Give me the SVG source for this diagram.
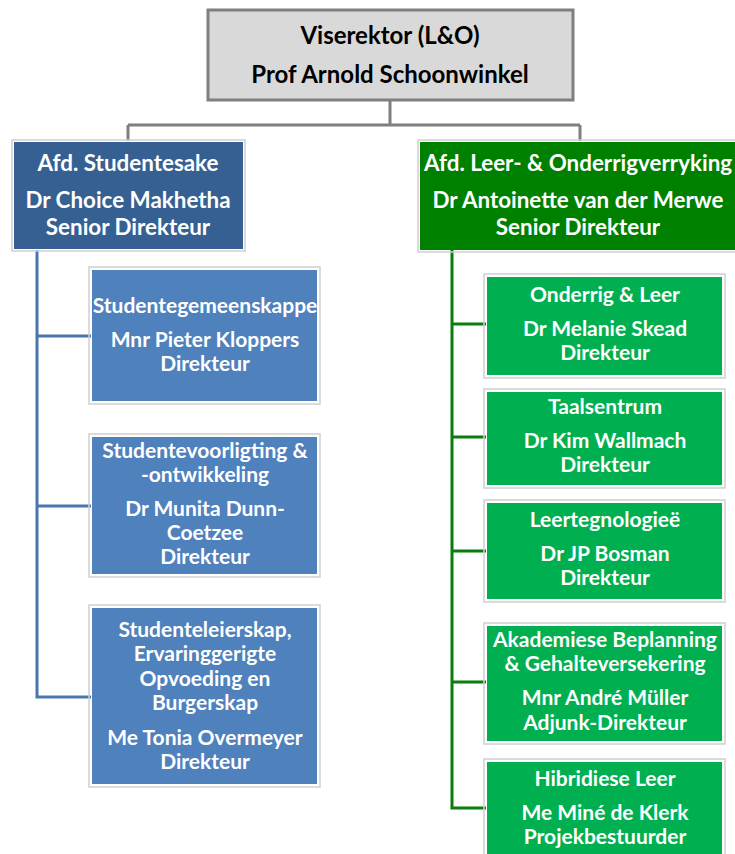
<svg xmlns="http://www.w3.org/2000/svg" width="735" height="854" viewBox="0 0 735 854">
<style>
text{font-family:Lato,"Open Sans","Liberation Sans",sans-serif;font-weight:bold;text-anchor:middle;}
.t1{font-size:24px;fill:#000;}
.th{font-size:22.4px;fill:#fff;}
.tc{font-size:21px;fill:#fff;}
.frame{fill:none;stroke:#d0d0d0;stroke-width:1.5;}
.blue{fill:#4f81bd;}
.green{fill:#00b050;}
.cg{stroke:#7f7f7f;stroke-width:3;fill:none;}
.cb{stroke:#4a76ae;stroke-width:3;fill:none;}
.cgr{stroke:#0a7d0a;stroke-width:3;fill:none;}
</style>
<rect width="735" height="854" fill="#fff"/>
<g id="connectors">
<path class="cg" d="M390 101V125M128 125H580M128 125V141M580 125V141"/>
<path class="cb" d="M37 250V697H91M37 336H91M37 506H91"/>
<path class="cgr" d="M452 250V808H486M452 324H486M452 437H486M452 551H486M452 682H486"/>
</g>
<g id="vicerector">
<rect x="208" y="10" width="365" height="90" fill="#d9d9d9" stroke="#7f7f7f" stroke-width="3"/>
<text class="t1" x="390" y="44">Viserektor (L&amp;O)</text>
<text class="t1" x="390" y="83">Prof Arnold Schoonwinkel</text>
</g>
<g id="studentesake">
<rect class="frame" x="12" y="140" width="233" height="111"/>
<rect x="14" y="142" width="229" height="107" fill="#366092"/>
<text class="th" x="128" y="171">Afd. Studentesake</text>
<text class="th" x="128" y="208">Dr Choice Makhetha</text>
<text class="th" x="128" y="235">Senior Direkteur</text>
</g>
<g id="leer-onderrig">
<rect class="frame" x="418" y="140" width="320" height="112"/>
<rect x="420" y="142" width="318" height="108" fill="#008000"/>
<text class="th" x="578" y="171">Afd. Leer- &amp; Onderrigverryking</text>
<text class="th" x="578" y="208">Dr Antoinette van der Merwe</text>
<text class="th" x="578" y="235">Senior Direkteur</text>
</g>
<g id="studentegemeenskappe">
<rect class="frame" x="89" y="267" width="231" height="137"/>
<rect class="blue" x="92" y="270" width="225" height="131"/>
<text class="tc" x="205" y="313">Studentegemeenskappe</text>
<text class="tc" x="205" y="347">Mnr Pieter Kloppers</text>
<text class="tc" x="205" y="371">Direkteur</text>
</g>
<g id="studentevoorligting">
<rect class="frame" x="89" y="434" width="231" height="143"/>
<rect class="blue" x="92" y="437" width="225" height="137"/>
<text class="tc" x="205" y="458">Studentevoorligting &amp;</text>
<text class="tc" x="205" y="482">-ontwikkeling</text>
<text class="tc" x="205" y="516">Dr Munita Dunn-</text>
<text class="tc" x="205" y="540">Coetzee</text>
<text class="tc" x="205" y="564">Direkteur</text>
</g>
<g id="studenteleierskap">
<rect class="frame" x="89" y="605" width="231" height="182"/>
<rect class="blue" x="92" y="608" width="225" height="176"/>
<text class="tc" x="205" y="637">Studenteleierskap,</text>
<text class="tc" x="205" y="661">Ervaringgerigte</text>
<text class="tc" x="205" y="686">Opvoeding en</text>
<text class="tc" x="205" y="710">Burgerskap</text>
<text class="tc" x="205" y="745">Me Tonia Overmeyer</text>
<text class="tc" x="205" y="769">Direkteur</text>
</g>
<g id="onderrig-leer">
<rect class="frame" x="484" y="274" width="241" height="104"/>
<rect class="green" x="487" y="277" width="235" height="98"/>
<text class="tc" x="605" y="302">Onderrig &amp; Leer</text>
<text class="tc" x="605" y="336">Dr Melanie Skead</text>
<text class="tc" x="605" y="360">Direkteur</text>
</g>
<g id="taalsentrum">
<rect class="frame" x="484" y="389" width="241" height="99"/>
<rect class="green" x="487" y="392" width="235" height="93"/>
<text class="tc" x="605" y="414">Taalsentrum</text>
<text class="tc" x="605" y="448">Dr Kim Wallmach</text>
<text class="tc" x="605" y="472">Direkteur</text>
</g>
<g id="leertegnologiee">
<rect class="frame" x="484" y="500" width="241" height="102"/>
<rect class="green" x="487" y="503" width="235" height="96"/>
<text class="tc" x="605" y="527">Leertegnologieë</text>
<text class="tc" x="605" y="561">Dr JP Bosman</text>
<text class="tc" x="605" y="585">Direkteur</text>
</g>
<g id="akademiese-beplanning">
<rect class="frame" x="484" y="623" width="241" height="121"/>
<rect class="green" x="487" y="626" width="235" height="115"/>
<text class="tc" x="605" y="647">Akademiese Beplanning</text>
<text class="tc" x="605" y="671">&amp; Gehalteversekering</text>
<text class="tc" x="605" y="705">Mnr André Müller</text>
<text class="tc" x="605" y="730">Adjunk-Direkteur</text>
</g>
<g id="hibridiese-leer">
<rect class="frame" x="484" y="759" width="241" height="100"/>
<rect class="green" x="487" y="762" width="235" height="97"/>
<text class="tc" x="605" y="786">Hibridiese Leer</text>
<text class="tc" x="605" y="820">Me Miné de Klerk</text>
<text class="tc" x="605" y="844">Projekbestuurder</text>
</g>
</svg>
